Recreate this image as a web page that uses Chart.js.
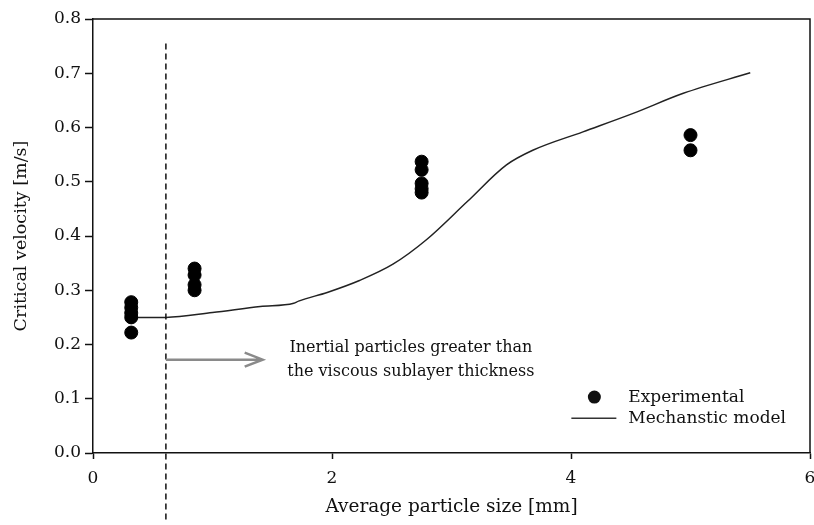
<!DOCTYPE html>
<html>
<head>
<meta charset="utf-8">
<script src="https://cdn.jsdelivr.net/npm/chart.js@4.4.1/dist/chart.umd.min.js"></script>
<style>
  html, body { margin: 0; padding: 0; background: #fff; }
  #wrap { width: 814px; height: 525px; }
</style>
</head>
<body>
<div id="wrap"><canvas id="chart"></canvas></div>
<script>
// experimental measurements, grouped by particle size [mm]
var expSizes = [0.32, 0.85, 2.75, 5.0];
var expVelocities = [
    [0.278, 0.268, 0.258, 0.25, 0.222],
    [0.34, 0.328, 0.31, 0.3],
    [0.537, 0.522, 0.497, 0.487, 0.48],
    [0.586, 0.558]
];

// mechanistic model curve
var modelX = [0.35, 0.61, 1.0, 1.4, 1.68, 1.72, 1.96, 2.23, 2.51, 2.79, 3.13, 3.46, 3.68, 4.10, 4.52, 4.94, 5.50];
var modelY = [0.25, 0.25, 0.259, 0.27, 0.276, 0.28, 0.296, 0.318, 0.348, 0.393, 0.463, 0.531, 0.558, 0.592, 0.626, 0.663, 0.701];

var xTicks = [0, 2, 4, 6];
var yTicks = [0.0, 0.1, 0.2, 0.3, 0.4, 0.5, 0.6, 0.7, 0.8];

var sublayerX = 0.61;
var noteLines = ['Inertial particles greater than', 'the viscous sublayer thickness'];
var legendLabels = ['Experimental', 'Mechanstic model'];

var serif = 'DejaVu Serif';
var ink = '#111';

var expPoints = [];
expSizes.forEach(function (x, i) {
    expVelocities[i].forEach(function (v) { expPoints.push({x: x, y: v}); });
});
var modelPoints = modelX.map(function (x, i) { return {x: x, y: modelY[i]}; });

var extras = {
    id: 'extras',
    afterDraw: function (chart) {
        var c = chart.ctx, a = chart.chartArea;
        var xs = chart.scales.x, ys = chart.scales.y;
        c.save();
        // frame
        c.strokeStyle = ink;
        c.lineWidth = 1.5;
        c.beginPath();
        c.moveTo(a.left, a.top);
        c.lineTo(a.right, a.top);
        c.lineTo(a.right, a.bottom);
        c.stroke();

        // dashed sublayer line
        var dx = xs.getPixelForValue(sublayerX);
        c.setLineDash([6, 4]);
        c.beginPath();
        c.moveTo(dx, ys.getPixelForValue(0.755));
        c.lineTo(dx, ys.getPixelForValue(-0.125));
        c.stroke();
        c.setLineDash([]);

        // arrow
        var ay = ys.getPixelForValue(0.172);
        var ax2 = xs.getPixelForValue(1.42);
        c.strokeStyle = '#8a8a8a';
        c.lineWidth = 2.5;
        c.beginPath();
        c.moveTo(dx, ay);
        c.lineTo(ax2, ay);
        c.moveTo(ax2 - 18, ay - 7);
        c.lineTo(ax2, ay);
        c.lineTo(ax2 - 18, ay + 7);
        c.stroke();

        // note text
        c.fillStyle = ink;
        c.font = '16px "' + serif + '"';
        c.textAlign = 'center';
        c.textBaseline = 'middle';
        var nx = xs.getPixelForValue(2.66);
        c.fillText(noteLines[0], nx, ys.getPixelForValue(0.194));
        c.fillText(noteLines[1], nx, ys.getPixelForValue(0.150));

        // legend
        var lx = xs.getPixelForValue(4.48);
        var ly1 = ys.getPixelForValue(0.103), ly2 = ys.getPixelForValue(0.064);
        c.beginPath();
        c.arc(lx - 34, ly1, 6.5, 0, Math.PI * 2);
        c.fill();
        c.strokeStyle = '#333';
        c.lineWidth = 1.5;
        c.beginPath();
        c.moveTo(lx - 57, ly2);
        c.lineTo(lx - 12, ly2);
        c.stroke();
        c.textAlign = 'left';
        c.font = '17px "' + serif + '"';
        c.fillText(legendLabels[0], lx, ly1);
        c.fillText(legendLabels[1], lx, ly2);
        c.restore();
    }
};

var ctx = document.getElementById('chart').getContext('2d');

var chart = new Chart(ctx, {
    type: 'scatter',
    data: {
        datasets: [{
            label: legendLabels[0],
            data: expPoints,
            backgroundColor: '#000',
            borderColor: '#000',
            pointRadius: 6.5,
            pointHoverRadius: 6.5,
            order: 1
        }, {
            type: 'line',
            label: legendLabels[1],
            data: modelPoints,
            borderColor: '#222',
            borderWidth: 1.5,
            pointRadius: 0,
            fill: false,
            cubicInterpolationMode: 'monotone',
            order: 2
        }]
    },
    options: {
        responsive: true,
        maintainAspectRatio: false,
        animation: false,
        layout: { autoPadding: false, padding: { top: 19, right: 4, left: 0, bottom: 0 } },
        plugins: {
            legend: { display: false },
            tooltip: { enabled: false }
        },
        scales: {
            x: {
                type: 'linear',
                min: 0,
                max: 6,
                afterBuildTicks: function (s) { s.ticks = xTicks.map(function (v) { return {value: v}; }); },
                afterFit: function (s) { s.height = 72; s.paddingLeft = 0; s.paddingRight = 0; },
                border: { display: true, color: ink, width: 1.5 },
                grid: { drawOnChartArea: false, drawTicks: true, tickLength: 6, color: ink, tickWidth: 1.5 },
                ticks: { color: ink, padding: 9, maxRotation: 0, font: { family: serif, size: 17 } },
                title: { display: true, text: 'Average particle size [mm]', color: ink, padding: { top: 0, bottom: 7 }, font: { family: serif, size: 18.5 } }
            },
            y: {
                type: 'linear',
                min: 0,
                max: 0.8,
                afterBuildTicks: function (s) { s.ticks = yTicks.map(function (v) { return {value: v}; }); },
                afterFit: function (s) { s.width = 93; },
                border: { display: true, color: ink, width: 1.5 },
                grid: { drawOnChartArea: false, drawTicks: true, tickLength: 8, color: ink, tickWidth: 1.5 },
                ticks: {
                    color: ink, padding: 4, font: { family: serif, size: 17 },
                    callback: function (v) { return Number(v).toFixed(1); }
                },
                title: { display: true, text: 'Critical velocity [m/s]', color: ink, padding: { top: 11, bottom: 0 }, font: { family: serif, size: 17.5 } }
            }
        }
    },
    plugins: [extras]
});
</script>
</body>
</html>
